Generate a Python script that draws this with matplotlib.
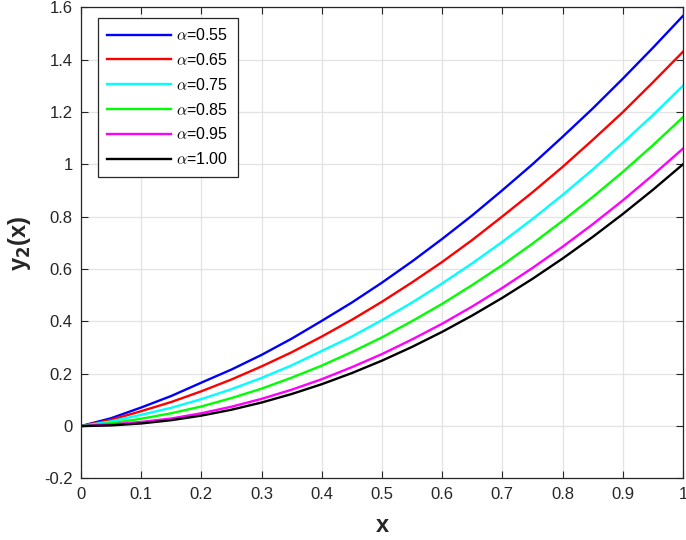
import matplotlib
matplotlib.use('Agg')
import matplotlib.pyplot as plt
from matplotlib.ticker import FuncFormatter

plt.rcParams['font.family'] = ['Liberation Sans Narrow', 'Liberation Sans', 'DejaVu Sans']
plt.rcParams['mathtext.fontset'] = 'cm'

# values
x = [0, 0.05, 0.1, 0.15, 0.2, 0.25, 0.3, 0.35, 0.4, 0.45, 0.5,
     0.55, 0.6, 0.65, 0.7, 0.75, 0.8, 0.85, 0.9, 0.95, 1.0]
y_055 = [0, 0.030, 0.071, 0.115, 0.166, 0.216, 0.272, 0.334, 0.402, 0.472, 0.548,
         0.629, 0.715, 0.805, 0.901, 1.000, 1.105, 1.213, 1.327, 1.445, 1.567]
y_065 = [0, 0.024, 0.057, 0.092, 0.133, 0.178, 0.228, 0.282, 0.342, 0.406, 0.475,
         0.549, 0.627, 0.711, 0.801, 0.893, 0.990, 1.093, 1.199, 1.313, 1.430]
y_075 = [0, 0.018, 0.043, 0.070, 0.103, 0.141, 0.184, 0.232, 0.287, 0.342, 0.405,
         0.472, 0.545, 0.622, 0.704, 0.791, 0.883, 0.980, 1.082, 1.188, 1.300]
y_085 = [0, 0.011, 0.028, 0.049, 0.075, 0.107, 0.143, 0.185, 0.231, 0.283, 0.339,
         0.401, 0.467, 0.539, 0.615, 0.697, 0.784, 0.875, 0.971, 1.073, 1.180]
y_095 = [0, 0.006, 0.016, 0.029, 0.049, 0.074, 0.104, 0.139, 0.179, 0.225, 0.275,
         0.331, 0.391, 0.457, 0.528, 0.604, 0.685, 0.771, 0.862, 0.959, 1.060]
y_100 = [0, 0.0025, 0.01, 0.0225, 0.04, 0.0625, 0.09, 0.1225, 0.16, 0.2025, 0.25,
         0.3025, 0.36, 0.4225, 0.49, 0.5625, 0.64, 0.7225, 0.81, 0.9025, 1.0]

series = [y_055, y_065, y_075, y_085, y_095, y_100]
labels = ['0.55', '0.65', '0.75', '0.85', '0.95', '1.00']
colors = ['#0000ff', '#ff0000', '#00ffff', '#00ff00', '#ff00ff', '#000000']

fig = plt.figure(figsize=(6.86, 5.4), dpi=100)
ax = fig.add_axes([0.118, 0.114, 0.8776, 0.8726])

for y, lab, c in zip(series, labels, colors):
    ax.plot(x, y, color=c, lw=1.7, label=r'$\alpha$=' + lab,
            solid_joinstyle='round')

ax.set_xlim(0, 1)
ax.set_ylim(-0.2, 1.6)
ax.set_xticks([i / 10 for i in range(11)])
ax.set_yticks([-0.2, 0, 0.2, 0.4, 0.6, 0.8, 1.0, 1.2, 1.4, 1.6])
fmt = FuncFormatter(lambda v, p: '%g' % round(v, 2))
ax.xaxis.set_major_formatter(fmt)
ax.yaxis.set_major_formatter(fmt)
ax.tick_params(direction='in', length=5, width=0.8, top=True, right=True,
               labelsize=12, colors='#262626', pad=6)
ax.grid(True, color='#e3e3e3', lw=0.9)
ax.set_axisbelow(True)
for s in ax.spines.values():
    s.set_color('#262626')
    s.set_linewidth(0.9)

ax.set_xlabel('x', fontsize=17, fontweight='bold', labelpad=9,
              family=['Liberation Sans'], color='#262626')
ax.set_ylabel(r'y$_\mathbf{2}$(x)', fontsize=17, fontweight='bold', labelpad=8,
              family=['Liberation Sans'], math_fontfamily='dejavusans',
              color='#262626')

leg = ax.legend(loc='upper left', bbox_to_anchor=(0.028, 0.978), borderaxespad=0,
                fontsize=11.5, frameon=True, fancybox=False, edgecolor='#262626',
                handlelength=4.0, borderpad=0.6, labelspacing=0.55,
                handletextpad=0.3, framealpha=1)
leg.get_frame().set_linewidth(0.9)

fig.savefig('out.png', dpi=100)
